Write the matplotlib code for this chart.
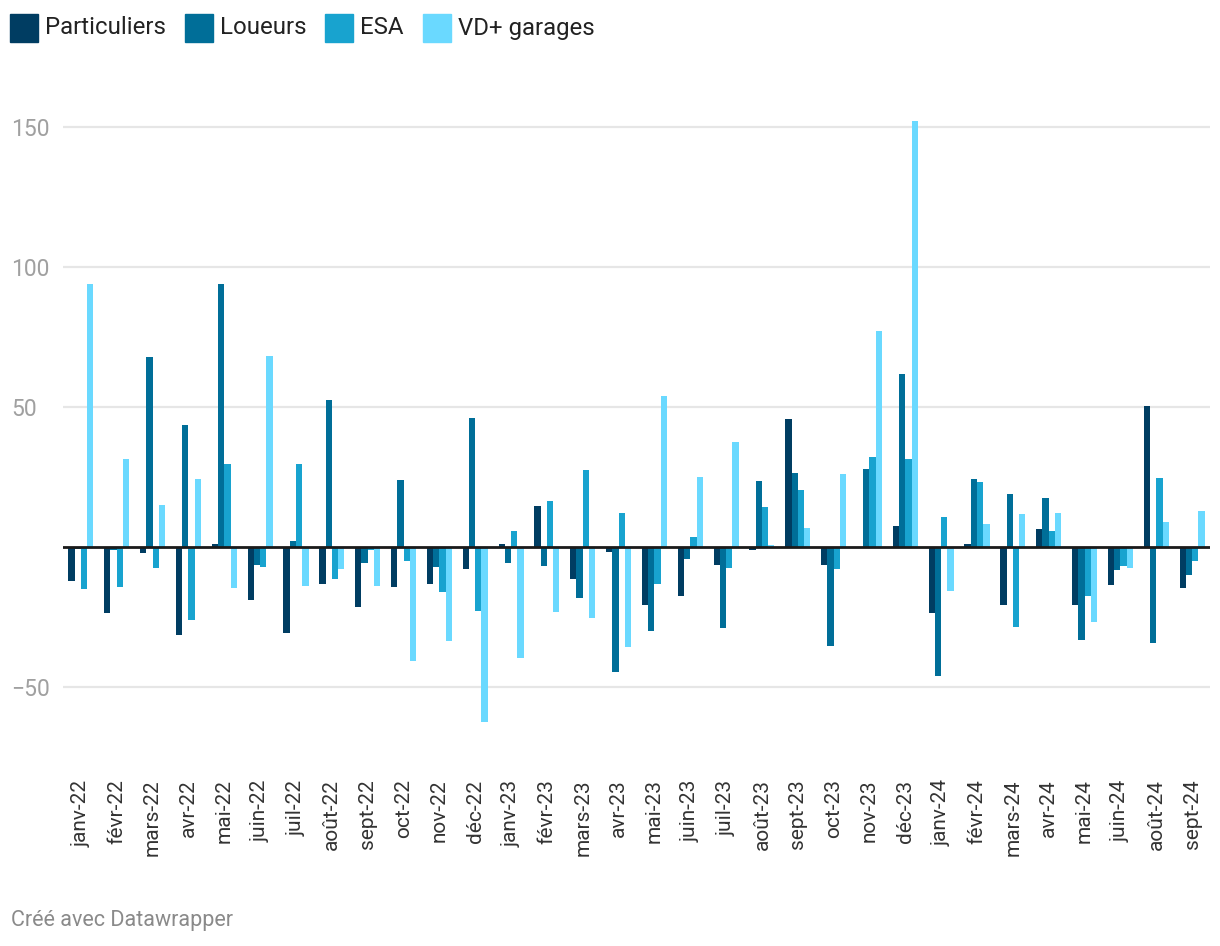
import numpy as np
import matplotlib
matplotlib.use('agg')
import matplotlib.pyplot as plt
from matplotlib.patches import Rectangle

plt.rcParams['font.family'] = ['Roboto', 'DejaVu Sans']

months = ["janv-22", "févr-22", "mars-22", "avr-22", "mai-22", "juin-22", "juil-22", "août-22",
          "sept-22", "oct-22", "nov-22", "déc-22", "janv-23", "févr-23", "mars-23", "avr-23",
          "mai-23", "juin-23", "juil-23", "août-23", "sept-23", "oct-23", "nov-23", "déc-23",
          "janv-24", "févr-24", "mars-24", "avr-24", "mai-24", "juin-24", "août-24", "sept-24"]

particuliers = [-12.1, -23.6, -2.1, -31.4, 1.0, -18.9, -30.7, -13.2,
                -21.4, -14.3, -13.2, -7.9, 1.0, 14.5, -11.4, -1.8,
                -20.7, -17.5, -6.4, -1.1, 45.6, -6.4, 0.0, 7.4,
                -23.7, 1.0, -20.7, 6.4, -20.7, -13.6, 50.4, -14.7]
loueurs = [-0.6, -1.0, 67.7, 43.5, 93.8, -6.4, 2.0, 52.4,
           -5.7, 23.8, -7.1, 46.0, -5.7, -6.8, -18.2, -44.6,
           -30.0, -4.3, -28.9, 23.5, 26.3, -35.4, 27.7, 61.7,
           -45.9, 24.3, 19.0, 17.5, -33.3, -8.3, -34.2, -10.1]
esa = [-15.0, -14.3, -7.5, -26.1, 29.5, -7.1, 29.5, -11.4,
       -1.0, -5.0, -16.1, -22.9, 5.6, 16.3, 27.4, 12.0,
       -13.2, 3.5, -7.5, 14.2, 20.2, -7.9, 32.0, 31.3,
       10.7, 23.1, -28.6, 5.6, -17.5, -6.8, 24.6, -4.9]
vd_garages = [93.8, 31.3, 14.9, 24.2, -14.6, 68.1, -13.9, -7.9,
              -13.9, -40.7, -33.6, -62.5, -39.6, -23.2, -25.4, -35.7,
              53.8, 24.9, 37.4, 0.6, 6.7, 26.0, 77.0, 151.9,
              -15.7, 8.1, 11.7, 12.1, -26.8, -7.3, 8.9, 12.9]

series = [("Particuliers", particuliers, '#003d62'),
          ("Loueurs", loueurs, '#006e98'),
          ("ESA", esa, '#18a3cf'),
          ("VD+ garages", vd_garages, '#6ad9ff')]

fig = plt.figure(figsize=(12.2, 9.46), dpi=100)
ax = fig.add_axes([63 / 1220, 1 - 760 / 946, (1210 - 63) / 1220, 650 / 946])

x = np.arange(len(months))
w = 0.175
for i, (name, vals, col) in enumerate(series):
    ax.bar(x + (i - 1.5) * w, vals, width=w, color=col, linewidth=0, zorder=3)

ax.set_xlim(-0.5, len(months) - 0.5)
ax.set_ylim(-76, 156)
for v in [150, 100, 50, -50]:
    ax.axhline(v, color='#e6e6e6', lw=1.6, zorder=1)
ax.axhline(0, color='#1a1a1a', lw=2, zorder=4)

for s in ax.spines.values():
    s.set_visible(False)

# y labels start at x=11 px (pad is in points)
ax.set_yticks([150, 100, 50, -50])
ax.set_yticklabels(['150', '100', '50', '\u221250'], ha='left')
ax.tick_params(axis='y', length=0, pad=(63 - 11) * 0.72, labelsize=16.5, labelcolor='#a0a0a0')

ax.set_xticks(x)
ax.set_xticklabels(months, rotation=90, va='top', ha='center')
ax.tick_params(axis='x', length=0, pad=14, labelsize=15, labelcolor='#333333')

# legend
lx = 10
for name, vals, col in series:
    fig.patches.append(Rectangle((lx / 1220, 1 - 42 / 946), 28 / 1220, 28 / 946,
                                 transform=fig.transFigure, color=col))
    t = fig.text((lx + 35) / 1220, 1 - 28 / 946, name, fontsize=17.3, color='#222222',
                 va='center', ha='left')
    fig.canvas.draw()
    bb = t.get_window_extent()
    lx = bb.x1 + 19

fig.text(11 / 1220, 1 - 920 / 946, "Créé avec Datawrapper", fontsize=15.5, color='#8a8a8a',
         va='center', ha='left')

fig.savefig('out.png', dpi=100)
